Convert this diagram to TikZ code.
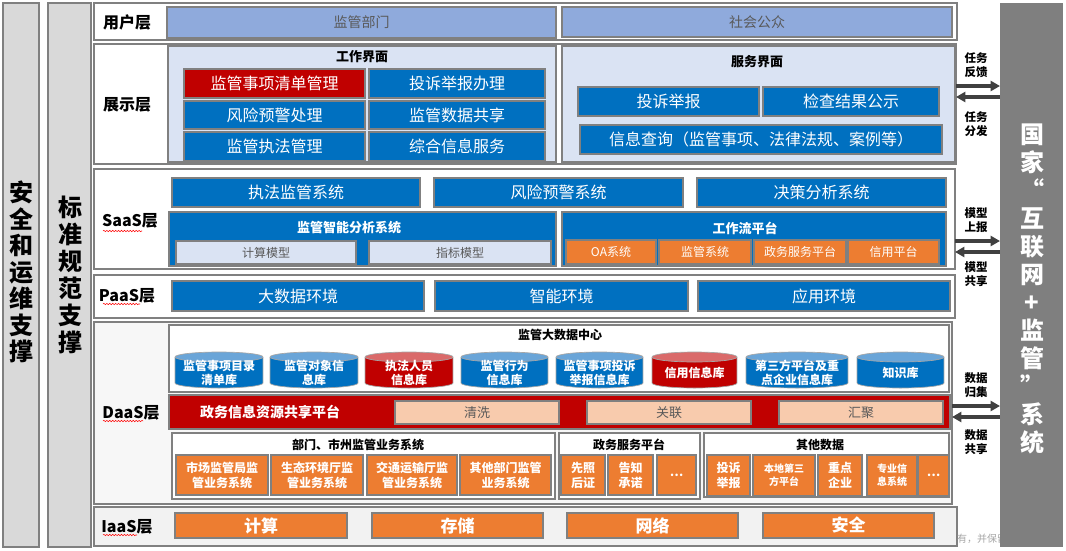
\documentclass[tikz,border=0pt]{standalone}
\usepackage{fontspec}
\setmainfont{Noto Sans CJK SC}
\usetikzlibrary{arrows.meta,decorations.pathmorphing}
\definecolor{cblue}{HTML}{0070C0}
\definecolor{cred}{HTML}{C00000}
\definecolor{corange}{HTML}{ED7D31}
\definecolor{clight}{HTML}{DAE3F3}
\definecolor{cuser}{HTML}{8FAADC}
\definecolor{cpeach}{HTML}{F8CBAD}
\definecolor{cborder}{HTML}{808080}
\definecolor{cbar}{HTML}{D9D9D9}
\definecolor{cgreybar}{HTML}{7F7F7F}
\definecolor{carrow}{HTML}{404040}
\definecolor{ctxt}{HTML}{595959}
\definecolor{cbluetop}{HTML}{6AA5D8}
\definecolor{credtop}{HTML}{DA6A6A}
\definecolor{cdaas}{HTML}{F7F7F7}
\definecolor{ciaas}{HTML}{F2F2F2}
\definecolor{cwm}{HTML}{A6A6A6}
\newcommand{\fsz}[2]{\fontsize{\fpeval{0.75*#1}pt}{\fpeval{0.75*#2}pt}\selectfont}
\newcommand{\bx}[7]{\node[#6, minimum width={(#4-#2)*0.75pt}, minimum height={(#5-#3)*0.75pt}] (#1) at ({(#2+#4)/2},{(#3+#5)/2}) {#7};}
\newcommand{\cyl}[6]{%
  \fill[#4] (#2,357) rectangle (#3,383);
  \fill[#4] ({(#2+#3)/2},383) ellipse [x radius={(#3-#2)/2}, y radius=5];
  \draw[cborder!70, line width=0.5pt] (#2,357) -- (#2,383) arc[start angle=180,end angle=0,x radius={(#3-#2)/2},y radius=5] -- (#3,357);
  \filldraw[fill=#5, draw=cborder!70, line width=0.5pt] ({(#2+#3)/2},357) ellipse [x radius={(#3-#2)/2}, y radius=5];
  \node[cyltext] (#1) at ({(#2+#3)/2},373) {#6};
}
\begin{document}
\begin{tikzpicture}[x=0.75pt,y=-0.75pt,
  every node/.style={inner sep=0pt, outer sep=0pt, align=center},
  rowbox/.style={draw=cborder, line width=1pt, fill=white},
  sidebar/.style={draw=cborder, line width=1pt, fill=cbar},
  panel/.style={draw=cborder, line width=0.8pt, fill=clight},
  wpanel/.style={draw=cborder, line width=0.8pt, fill=white},
  bbox/.style={draw=cborder, line width=0.8pt, fill=cblue, text=white, font=\fsz{16}{18}},
  rbox/.style={draw=cborder, line width=0.8pt, fill=cred, text=white, font=\fsz{16}{18}},
  obox/.style={draw=cborder, line width=0.8pt, fill=corange, text=white, font=\fsz{12}{15}\bfseries},
  oboxn/.style={draw=cborder, line width=0.8pt, fill=corange, text=white, font=\fsz{12}{15}},
  ibox/.style={draw=cborder, line width=0.8pt, fill=corange, text=white, font=\fsz{17}{20}\bfseries},
  ubox/.style={draw=cborder, line width=0.8pt, fill=cuser, text=ctxt, font=\fsz{14}{16}},
  lbox/.style={draw=cborder, line width=0.8pt, fill=clight, text=ctxt, font=\fsz{12}{14}},
  pbox/.style={draw=cborder, line width=0.8pt, fill=cpeach, text=ctxt, font=\fsz{13}{15}},
  layer/.style={font=\fsz{16}{18}\bfseries},
  ttl/.style={font=\fsz{13}{15}\bfseries},
  ttls/.style={font=\fsz{12}{14}\bfseries},
  cyltext/.style={text=white, font=\fsz{12}{14.5}\bfseries},
  sidelbl/.style={font=\fsz{11.5}{14}\bfseries},
  arr/.style={draw=carrow, line width=2.5pt, -{Triangle[length=7pt,width=7.5pt]}},
  squig/.style={draw=red, line width=0.4pt, decorate, decoration={snake,amplitude=0.5pt,segment length=2.2pt}}
]
\useasboundingbox (0,0) rectangle (1066,550);
% side bars
\bx{lbar1}{3}{3}{39}{547}{sidebar}{}
\node[font=\fsz{24}{26.5}\bfseries] (lbar1t) at (21,272) {安\\全\\和\\运\\维\\支\\撑};
\bx{lbar2}{48}{3}{91}{547}{sidebar}{}
\node[font=\fsz{24}{27}\bfseries] (lbar2t) at (70,275) {标\\准\\规\\范\\支\\撑};
% rows
\bx{userrow}{94}{3}{957}{40}{rowbox}{}
\bx{showrow}{94}{44}{956}{164}{rowbox}{}
\bx{saasrow}{94}{169}{955}{269}{rowbox}{}
\bx{paasrow}{94}{275}{955}{318}{rowbox}{}
\bx{daasrow}{94}{322}{952}{504}{rowbox, fill=cdaas}{}
\bx{iaasrow}{94}{507}{957}{546}{rowbox, fill=ciaas}{}
% layer labels
\node[layer] (lu) at (127,22) {用户层};
\node[layer] (ls) at (127,105) {展示层};
\node[layer] (lsaas) at (130,221) {SaaS层};
\node[layer] (lpaas) at (127,296) {PaaS层};
\node[layer] (ldaas) at (131,413) {DaaS层};
\node[layer] (liaas) at (127,527) {IaaS层};
\draw[squig] (103,231) -- (142,231);
\draw[squig] (103,304) -- (140,304);
\draw[squig] (103,421) -- (143,421);
\draw[squig] (103,535) -- (137,535);
% user layer
\bx{jgbm}{167}{7}{556}{38}{ubox}{监管部门}
\bx{shgz}{562}{7}{952}{37}{ubox}{社会公众}
% show layer
\bx{gzjm}{168}{46}{556}{162}{panel}{}
\node[ttl] (gzjmt) at (362,57) {工作界面};
\bx{s1}{184}{69}{365}{98}{rbox}{监管事项清单管理}
\bx{s2}{369}{69}{545}{98}{bbox}{投诉举报办理}
\bx{s3}{184}{101}{365}{129}{bbox}{风险预警处理}
\bx{s4}{369}{101}{545}{129}{bbox}{监管数据共享}
\bx{s5}{184}{132}{365}{161}{bbox}{监管执法管理}
\bx{s6}{369}{132}{545}{161}{bbox}{综合信息服务}
\bx{fwjm}{562}{46}{955}{162}{panel}{}
\node[ttl] (fwjmt) at (757,62) {服务界面};
\bx{f1}{578}{87}{759}{116}{bbox}{投诉举报}
\bx{f2}{763}{87}{939}{116}{bbox}{检查结果公示}
\bx{f3}{580}{125}{942}{154}{bbox}{信息查询（监管事项、法律法规、案例等）}
% SaaS
\bx{zf}{172}{178}{420}{207}{bbox}{执法监管系统}
\bx{fx}{434}{178}{683}{207}{bbox}{风险预警系统}
\bx{jc}{697}{178}{946}{207}{bbox}{决策分析系统}
\bx{znfx}{169}{212}{556}{266}{bbox}{}
\node[ttl, text=white] (znfxt) at (349,228) {监管智能分析系统};
\bx{jsmx}{176}{241}{356}{264}{lbox}{计算模型}
\bx{zbmx}{369}{241}{551}{264}{lbox}{指标模型}
\bx{gzl}{562}{212}{946}{266}{bbox}{}
\node[ttl, text=white] (gzlt) at (745,228) {工作流平台};
\bx{oa}{566}{240}{656}{264}{oboxn}{OA系统}
\bx{jgxt}{659}{240}{751}{264}{oboxn}{监管系统}
\bx{zwfwpt}{754}{240}{846}{264}{oboxn}{政务服务平台}
\bx{xypt}{848}{240}{939}{264}{oboxn}{信用平台}
% PaaS
\bx{dsj}{172}{281}{424}{311}{bbox}{大数据环境}
\bx{znhj}{435}{281}{688}{311}{bbox}{智能环境}
\bx{yyhj}{698}{281}{950}{311}{bbox}{应用环境}
% DaaS
\bx{dsjzx}{169}{325}{949}{392}{wpanel}{}
\node[ttls] (dsjzxt) at (560,335) {监管大数据中心};
\cyl{c1}{175}{263}{cblue}{cbluetop}{监管事项目录\\清单库}
\cyl{c2}{270}{358}{cblue}{cbluetop}{监管对象信\\息库}
\cyl{c3}{365}{453}{cred}{credtop}{执法人员\\信息库}
\cyl{c4}{461}{548}{cblue}{cbluetop}{监管行为\\信息库}
\cyl{c5}{556}{643}{cblue}{cbluetop}{监管事项投诉\\举报信息库}
\cyl{c6}{652}{737}{cred}{credtop}{信用信息库}
\cyl{c7}{746}{848}{cblue}{cbluetop}{第三方平台及重\\点企业信息库}
\cyl{c8}{857}{944}{cblue}{cbluetop}{知识库}
\bx{gxpt}{169}{395}{950}{429}{draw=cborder, line width=0.8pt, fill=cred}{}
\node[text=white, font=\fsz{14}{16}\bfseries] (gxptt) at (270,412) {政务信息资源共享平台};
\bx{qx}{395}{401}{559}{424}{pbox}{清洗}
\bx{gl}{587}{401}{751}{424}{pbox}{关联}
\bx{hj}{779}{401}{943}{424}{pbox}{汇聚}
\bx{bmxt}{172}{433}{555}{499}{wpanel}{}
\node[ttls] (bmxtt) at (358,445) {部门、市州监管业务系统};
\bx{o1}{176}{455}{268}{495}{obox}{市场监管局监\\管业务系统}
\bx{o2}{271}{455}{363}{495}{obox}{生态环境厅监\\管业务系统}
\bx{o3}{367}{455}{457}{495}{obox}{交通运输厅监\\管业务系统}
\bx{o4}{460}{455}{551}{495}{obox}{其他部门监管\\业务系统}
\bx{zwpt}{559}{433}{700}{499}{wpanel}{}
\node[ttls] (zwptt) at (629,445) {政务服务平台};
\bx{o5}{561}{455}{605}{495}{obox}{先照\\后证}
\bx{o6}{608}{455}{653}{495}{obox}{告知\\承诺}
\bx{o7}{657}{455}{696}{495}{obox}{…}
\bx{qtsj}{704}{433}{949}{497}{wpanel}{}
\node[ttls] (qtsjt) at (820,445) {其他数据};
\bx{o8}{707}{455}{750}{496}{obox}{投诉\\举报}
\bx{o9}{753}{455}{815}{496}{obox, font=\fsz{10}{13}\bfseries}{本地第三\\方平台}
\bx{o10}{818}{455}{862}{496}{obox}{重点\\企业}
\bx{o11}{867}{455}{917}{496}{obox, font=\fsz{10}{13}\bfseries}{专业信\\息系统}
\bx{o12}{918}{455}{949}{496}{obox}{…}
% IaaS
\bx{js}{175}{513}{347}{538}{ibox}{计算}
\bx{cc}{372}{513}{543}{538}{ibox}{存储}
\bx{wl}{567}{513}{738}{538}{ibox}{网络}
\bx{aq}{763}{513}{934}{538}{ibox}{安全}
% watermark
\node[anchor=west, text=cwm, font=\fsz{10}{12}] (wm) at (957,539) {有，并保留};
% right bar
\bx{rbar}{1000}{3}{1063}{547}{fill=cgreybar}{}
\node[text=white, font=\fsz{24}{28}\bfseries] (rbart) at (1032,289) {国\\家\\“\\互\\联\\网\\+\\监\\管\\”\\系\\统};
% arrows
\coordinate (ya) at (0,86);
\coordinate (yb) at (0,97);
\coordinate (yc) at (0,241);
\coordinate (yd) at (0,252);
\coordinate (ye) at (0,406);
\coordinate (yf) at (0,417);
\draw[arr] (showrow.east |- ya) -- (rbar.west |- ya);
\draw[arr] (rbar.west |- yb) -- (showrow.east |- yb);
\draw[arr] (saasrow.east |- yc) -- (rbar.west |- yc);
\draw[arr] (rbar.west |- yd) -- (saasrow.east |- yd);
\draw[arr] (daasrow.east |- ye) -- (rbar.west |- ye);
\draw[arr] (rbar.west |- yf) -- (daasrow.east |- yf);
\node[sidelbl] (la) at (976,65) {任务\\反馈};
\node[sidelbl] (lb) at (976,124) {任务\\分发};
\node[sidelbl] (lc) at (976,220) {模型\\上报};
\node[sidelbl] (ld) at (976,274) {模型\\共享};
\node[sidelbl] (le) at (976,385) {数据\\归集};
\node[sidelbl] (lf) at (976,442) {数据\\共享};
\end{tikzpicture}
\end{document}
